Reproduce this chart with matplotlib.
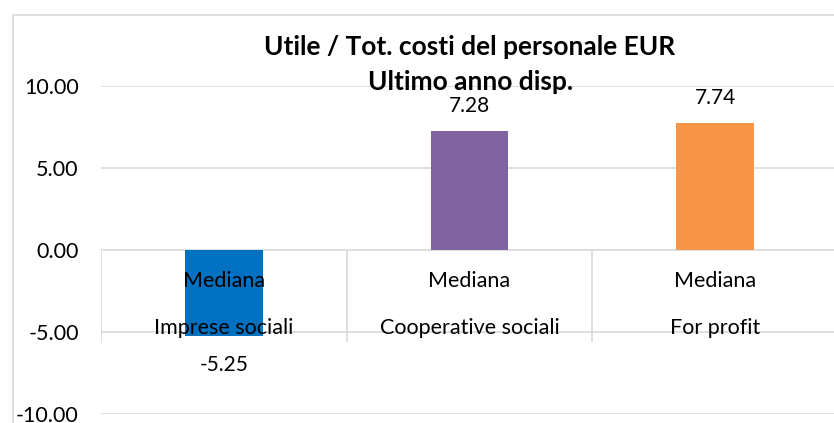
import numpy as np
import matplotlib.pyplot as plt
from matplotlib.patches import Rectangle

categories = ['Imprese sociali', 'Cooperative sociali', 'For profit']
level_label = 'Mediana'
values = [-5.25, 7.28, 7.74]
colors = ['#0070C0', '#8064A2', '#F79646']
yticks = [-10, -5, 0, 5, 10]
title_lines = ['Utile / Tot. costi del personale EUR', 'Ultimo anno disp.']

plt.rcParams['font.family'] = ['Lato', 'DejaVu Sans']

W, H = 834, 423
fig = plt.figure(figsize=(W / 100, H / 100), dpi=100)

# chart border (Excel chart area), partly outside the image
fig.add_artist(Rectangle((13 / W, -0.5), 2.0, 1.5 - 15 / H, transform=fig.transFigure,
                         fill=False, edgecolor='#D9D9D9', linewidth=1.2))

ax = fig.add_axes([101 / W, 1 - 414 / H, 737 / W, 328 / H])
x = np.arange(len(categories))
ax.bar(x, values, width=0.315, color=colors, zorder=2)

ax.set_xlim(-0.5, len(categories) - 0.5)
ax.set_ylim(min(yticks), max(yticks))
ax.set_yticks(yticks)
ax.set_yticklabels([f'{v:.2f}' for v in yticks])
ax.tick_params(axis='y', length=0, pad=16, labelsize=15.5)
ax.set_xticks([])
for s in ax.spines.values():
    s.set_visible(False)
ax.yaxis.grid(True, color='#D9D9D9', linewidth=1.2, zorder=0)
ax.set_axisbelow(True)

# category separators below the zero line
ax.vlines(np.arange(len(categories) + 1) - 0.5, 0, -5.6, color='#D9D9D9', linewidth=1.2, zorder=1)

# two-level category labels
for i, c in enumerate(categories):
    ax.text(i, -1.89, level_label, ha='center', va='center', fontsize=15.5, zorder=3)
    ax.text(i, -4.75, c, ha='center', va='center', fontsize=15.5, zorder=3)

# value labels
for i, v in enumerate(values):
    off = 1.5 if v >= 0 else -1.75
    ax.text(i, v + off, f'{v:.2f}', ha='center', va='center', fontsize=15, zorder=3)

fig.text(470 / W, 1 - 47 / H, title_lines[0], ha='center', va='center', fontsize=19,
         fontweight='bold')
fig.text(471 / W, 1 - 82 / H, title_lines[1], ha='center', va='center', fontsize=19,
         fontweight='bold')

fig.savefig('out.png', dpi=100)
